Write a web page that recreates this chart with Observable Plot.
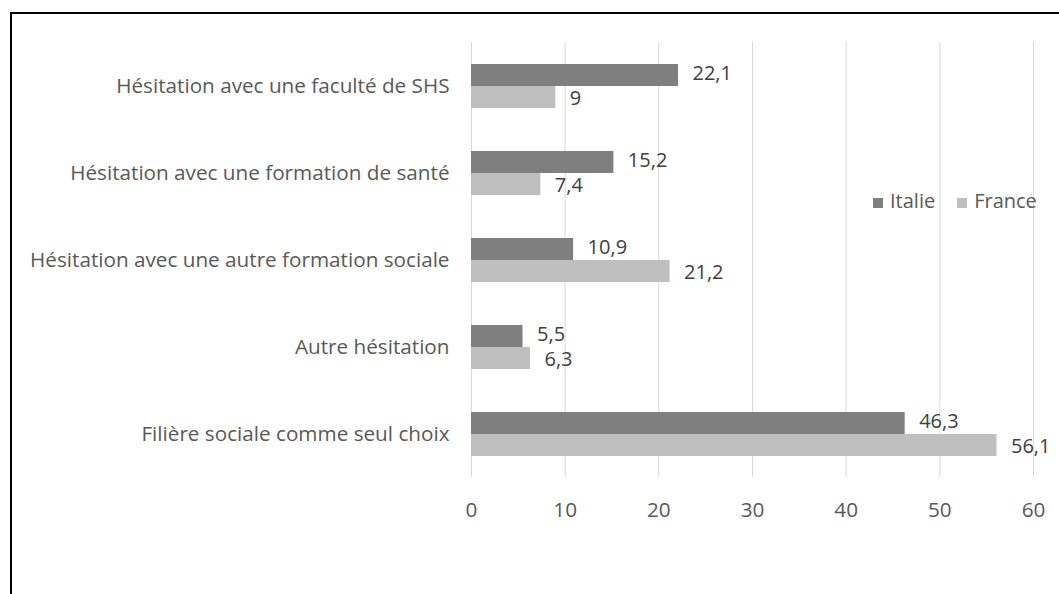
<!DOCTYPE html>
<html>
<head>
<meta charset="utf-8">
<script src="https://cdn.jsdelivr.net/npm/d3@7"></script>
<script src="https://cdn.jsdelivr.net/npm/@observablehq/plot@0.6"></script>
<style>
  html, body { margin: 0; padding: 0; background: #fff; overflow: hidden; }
  #wrap { position: relative; width: 1059px; height: 594px; font-family: "Open Sans", sans-serif; }
  #border { position: absolute; left: 10px; top: 12px; width: 1100px; height: 700px; border-top: 2px solid #000; border-left: 2px solid #000; }
  #chart { position: absolute; left: 0; top: 0; }
  #legend { position: absolute; left: 873px; top: 187px; font-size: 20px; color: #595959; display: flex; gap: 22px; align-items: center; }
  #legend span.sw { display: inline-block; width: 10px; height: 10px; margin-right: 7px; }
</style>
</head>
<body>
<div id="wrap">
  <div id="border"></div>
  <div id="chart"></div>
  <div id="legend"></div>
</div>
<script>
const categories = [
  "Hésitation avec une faculté de SHS",
  "Hésitation avec une formation de santé",
  "Hésitation avec une autre formation sociale",
  "Autre hésitation",
  "Filière sociale comme seul choix"
];
const series = ["Italie", "France"];
const italie = [22.1, 15.2, 10.9, 5.5, 46.3];
const france = [9, 7.4, 21.2, 6.3, 56.1];
const colors = ["#7f7f7f", "#bfbfbf"];
const xTicks = [0, 10, 20, 30, 40, 50, 60];

const data = [];
categories.forEach((c, i) => {
  data.push({category: c, series: "Italie", value: italie[i]});
  data.push({category: c, series: "France", value: france[i]});
});
const fmt = v => String(v).replace(".", ",");

const chart = Plot.plot({
  width: 1059,
  height: 594,
  marginLeft: 471,
  marginRight: 26,
  marginTop: 40,
  marginBottom: 115,
  style: {fontFamily: "'Open Sans', sans-serif", fontSize: "20.7px", color: "#595959", background: "transparent"},
  x: {domain: [0, 60], ticks: xTicks, label: null, tickSize: 0, tickPadding: 25, tickFormat: d => String(d)},
  fy: {domain: categories, padding: 0, label: null, axis: "left", tickSize: 0, tickPadding: 22},
  y: {domain: series, paddingInner: 0, paddingOuter: 0.95, axis: null},
  color: {domain: series, range: colors},
  marks: [
    Plot.gridX(xTicks, {stroke: "#d9d9d9", strokeOpacity: 1, strokeWidth: 1}),
    Plot.barX(data, {fy: "category", y: "series", x: "value", fill: "series", inset: 0}),
    Plot.text(data.filter(d => d.series === "Italie"), {fy: "category", y: "series", x: "value", text: d => fmt(d.value), textAnchor: "start", dx: 14, dy: -1.5, fill: "#404040", fontSize: 20}),
    Plot.text(data.filter(d => d.series === "France"), {fy: "category", y: "series", x: "value", text: d => fmt(d.value), textAnchor: "start", dx: 14, dy: 1.5, fill: "#404040", fontSize: 20})
  ]
});
document.getElementById("chart").appendChild(chart);

const legend = document.getElementById("legend");
series.forEach((s, i) => {
  const item = document.createElement("div");
  item.innerHTML = `<span class="sw" style="background:${colors[i]}"></span>${s}`;
  legend.appendChild(item);
});
</script>
</body>
</html>
